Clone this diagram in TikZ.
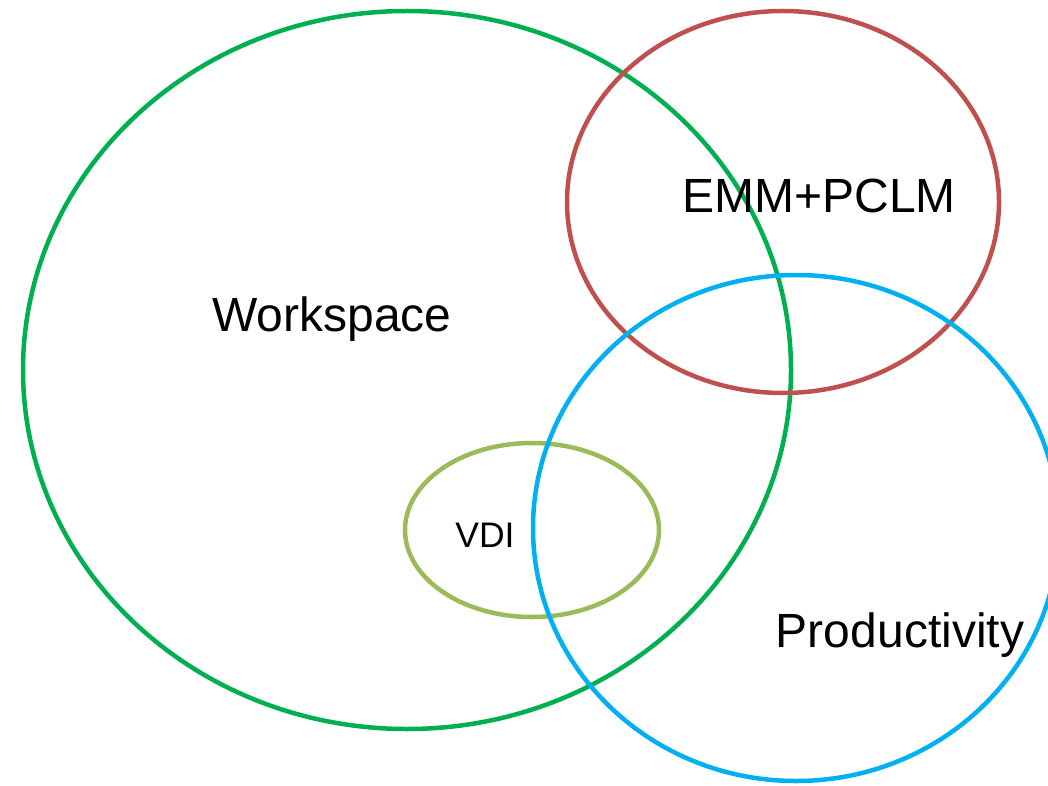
\documentclass[tikz,border=0pt]{standalone}
\usepackage{fontspec}
\setmainfont{Liberation Sans}
\definecolor{cgreen}{RGB}{0,176,80}
\definecolor{cred}{RGB}{192,80,77}
\definecolor{cblue}{RGB}{0,176,240}
\definecolor{colive}{RGB}{155,187,89}
\begin{document}
\begin{tikzpicture}[x=1pt,y=-1pt,
  ring/.style={line width=4.5pt},
  lbl/.style={inner sep=0pt, text=black, font=\fontsize{48}{50}\selectfont},
  slbl/.style={inner sep=0pt, text=black, font=\fontsize{35.5}{38}\selectfont}]
\useasboundingbox (0,0) rectangle (1048,786);
\clip (0,0) rectangle (1048,786);
\draw[ring, colive] (532,530) ellipse [x radius=127, y radius=87];
\draw[ring, cgreen] (407,370) ellipse [x radius=384, y radius=359];
\draw[ring, cred] (783,202) ellipse [x radius=216, y radius=191];
\draw[ring, cblue] (796,528) ellipse [x radius=263, y radius=253];
\node[lbl] (ws) at (332,319) {Workspace};
\node[lbl] (emm) at (819,196) {EMM+PCLM};
\node[lbl] (prod) at (900,635) {Productivity};
\node[slbl] (vdi) at (485,535) {VDI};
\end{tikzpicture}
\end{document}
